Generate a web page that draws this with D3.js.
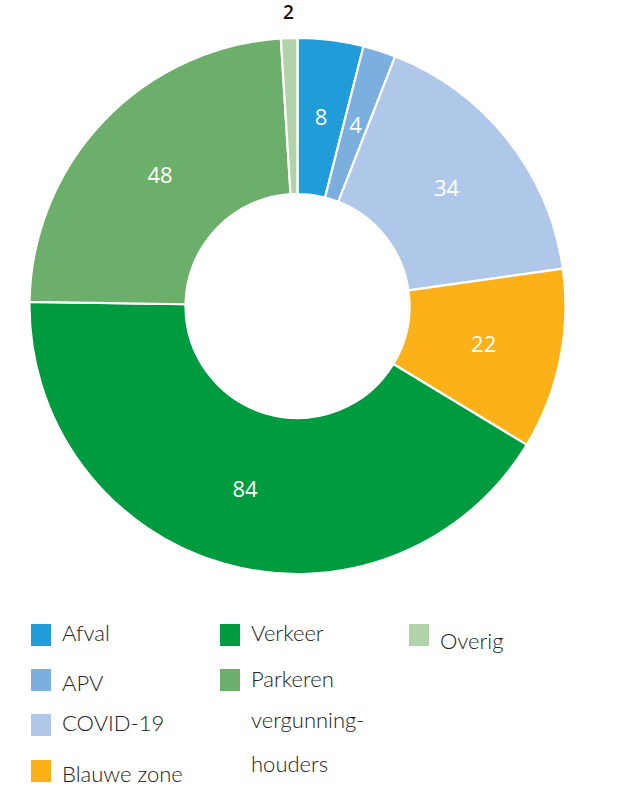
<!DOCTYPE html>
<html><head><meta charset="utf-8">
<script src="https://cdn.jsdelivr.net/npm/d3@7"></script>
<style>html,body{margin:0;padding:0;background:#fff;}svg{display:block;font-family:"Open Sans",sans-serif;}</style>
</head><body>
<script>
const categories = ["Afval","APV","COVID-19","Blauwe zone","Verkeer","Parkeren vergunninghouders","Overig"];
const values = [8,4,34,22,84,48,2];
const colors = ["#209CD8","#7BAFDE","#AFC8EA","#FBB117","#009B3F","#6CAF6A","#B2D3A9"];
const legendLines = [["Afval"],["APV"],["COVID-19"],["Blauwe zone"],["Verkeer"],["Parkeren","vergunning-","houders"],["Overig"]];

const W=622,H=787;
const svg=d3.select("body").append("svg").attr("width",W).attr("height",H);
const cx=297.5, cy=306, R=268, r=112;
const data=categories.map((c,i)=>({cat:c,value:values[i],color:colors[i],lines:legendLines[i]}));
const pie=d3.pie().value(d=>d.value).sort(null);
const arc=d3.arc().innerRadius(r).outerRadius(R);
const g=svg.append("g").attr("transform",`translate(${cx},${cy})`);
const arcs=pie(data);
g.selectAll("path").data(arcs).join("path").attr("d",arc).attr("fill",d=>d.data.color).attr("stroke","#fff").attr("stroke-width",2.2);
const outerArc=d3.arc().innerRadius(294).outerRadius(294);
g.selectAll("text.lbl").data(arcs).join("text").attr("class","lbl")
 .attr("transform",d=>{const p=(d.data.value<3?outerArc:arc).centroid(d);return `translate(${p})`;})
 .attr("text-anchor","middle").attr("dy","0.36em")
 .attr("font-size",d=>d.data.value<3?19:22)
 .attr("fill",d=>d.data.value<3?"#111":"#fff")
 .attr("font-weight",d=>d.data.value<3?600:400)
 .text(d=>d.data.value);

// legend
const legendPos=[
 {x:31,y:624,ty:[641]},
 {x:31,y:669,ty:[691]},
 {x:31,y:714,ty:[731]},
 {x:31,y:760,ty:[782]},
 {x:220,y:624,ty:[641]},
 {x:220,y:669,ty:[687,728,772]},
 {x:409,y:624,ty:[649]}
];
const lg=svg.append("g").attr("font-family","Lato, 'Open Sans', sans-serif");
data.forEach((d,i)=>{
 const p=legendPos[i];
 lg.append("rect").attr("x",p.x).attr("y",p.y).attr("width",20).attr("height",22).attr("fill",d.color);
 d.lines.forEach((t,j)=>{
  lg.append("text").attr("x",p.x+31).attr("y",p.ty[j]).attr("font-size",22).attr("font-weight",300).attr("fill","#222").text(t);
 });
});
</script>
</body></html>
